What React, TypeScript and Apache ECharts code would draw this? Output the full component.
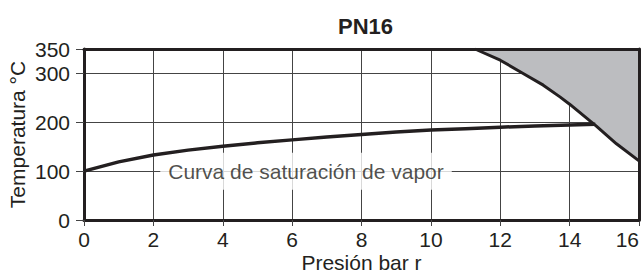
import React, { useEffect, useRef } from "react";
import * as echarts from "echarts";

const titleText = "PN16";
const xAxisName = "Presión bar r";
const yAxisName = "Temperatura °C";
const curveLabel = ["Curva de saturación de vapor"];
const labelAnchor = [[6.4, 100]];

const yTicks = [0, 100, 200, 300, 350];

// Saturation curve (pressure bar g, temperature °C)
const satX = [0, 1, 2, 3, 4, 5, 6, 7, 8, 9, 10, 11, 12, 13, 14, 14.74];
const satY = [100, 119, 133, 143, 151, 158, 164, 170, 175, 180, 184, 187, 190, 192.5, 194.5, 196];

// PN16 limit curve (area above it is not allowed)
const pnX = [11.27, 12, 12.66, 13.24, 13.72, 14, 14.77, 15.35, 16];
const pnY = [350, 327, 300, 276, 252, 237, 192, 156, 121];

const FONT = "'Liberation Sans', Arial, Helvetica, sans-serif";
const INK = "#231f20";
const GRID = "#444";

export default function App() {
  const ref = useRef<HTMLDivElement>(null);
  useEffect(() => {
    if (!ref.current) return;
    const chart = echarts.init(ref.current, undefined, { renderer: "svg" });
    const satData = satX.map((x, i) => [x, satY[i]]);
    const pnData = pnX.map((x, i) => [x, pnY[i]]);
    chart.setOption({
      animation: false,
      textStyle: { fontFamily: FONT, color: INK },
      title: {
        text: titleText,
        left: 333,
        top: 10,
        textStyle: { fontFamily: FONT, fontSize: 22, fontWeight: "bold", color: INK },
      },
      grid: { left: 84, right: 2, top: 49, bottom: 55, containLabel: false, outerBoundsMode: "none" },
      xAxis: [
        {
          type: "value",
          min: 0,
          max: 16,
          interval: 2,
          name: xAxisName,
          nameLocation: "middle",
          nameGap: 32,
          nameMoveOverlap: false,
          nameTextStyle: { fontFamily: FONT, fontSize: 21, lineHeight: 21, color: INK },
          axisLine: { show: true, lineStyle: { color: INK, width: 3 } },
          axisTick: { show: true, length: 6, lineStyle: { color: GRID, width: 1 } },
          axisLabel: {
            fontFamily: FONT,
            fontSize: 21,
            color: INK,
            margin: 9,
            alignMaxLabel: "right",
          },
          splitLine: { show: true, lineStyle: { color: GRID, width: 1 } },
        },
        {
          type: "value",
          position: "top",
          min: 0,
          max: 16,
          z: 10,
          axisLine: { show: true, onZero: false, lineStyle: { color: INK, width: 3 } },
          axisTick: { show: false },
          axisLabel: { show: false },
          splitLine: { show: false },
        },
      ],
      yAxis: [
        {
          type: "value",
          min: 0,
          max: 350,
          name: yAxisName,
          nameLocation: "middle",
          nameGap: 56,
          nameMoveOverlap: false,
          nameTextStyle: { fontFamily: FONT, fontSize: 21, color: INK },
          axisLine: { show: true, lineStyle: { color: INK, width: 3 } },
          axisTick: { show: true, length: 8, customValues: yTicks, lineStyle: { color: GRID, width: 1 } },
          axisLabel: { fontFamily: FONT, fontSize: 21, color: INK, margin: 14, customValues: yTicks },
          splitLine: { show: true, lineStyle: { color: GRID, width: 1 } },
        },
        {
          type: "value",
          position: "right",
          min: 0,
          max: 350,
          z: 10,
          axisLine: { show: true, onZero: false, lineStyle: { color: INK, width: 3 } },
          axisTick: { show: false },
          axisLabel: { show: false },
          splitLine: { show: false },
        },
      ],
      series: [
        {
          type: "line",
          name: "PN16",
          data: pnData,
          xAxisIndex: 0,
          yAxisIndex: 0,
          symbol: "none",
          z: 3,
          lineStyle: { color: INK, width: 3 },
          areaStyle: { origin: "end", color: "#bcbdc0", opacity: 1 },
        },
        {
          type: "scatter",
          data: labelAnchor,
          xAxisIndex: 0,
          yAxisIndex: 0,
          symbolSize: 0,
          z: 2,
          silent: true,
          label: {
            show: true,
            position: "inside",
            formatter: () => curveLabel[0],
            fontFamily: FONT,
            fontSize: 21,
            color: INK,
            backgroundColor: "#ffffff",
            padding: [8, 8, 8, 8],
          },
        },
        {
          type: "line",
          name: "sat",
          data: satData,
          xAxisIndex: 0,
          yAxisIndex: 0,
          symbol: "none",
          z: 4,
          lineStyle: { color: INK, width: 3.5 },
        },
      ],
    });
    return () => chart.dispose();
  }, []);
  return (
    <div
      ref={ref}
      style={{ position: "fixed", left: 0, top: 0, width: 641, height: 275, background: "#fff" }}
    />
  );
}
